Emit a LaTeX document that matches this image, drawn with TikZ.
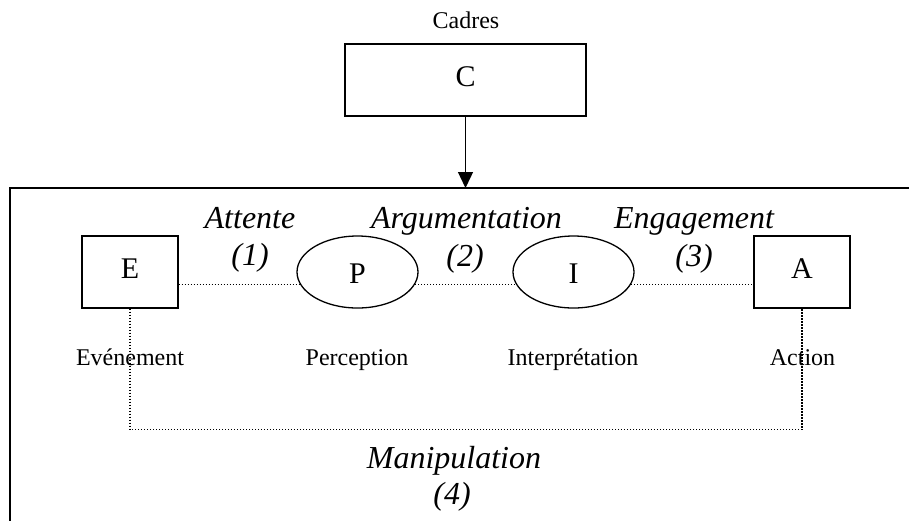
\documentclass[tikz,border=0pt]{standalone}
\usepackage{fontspec}
\setmainfont{Liberation Serif}
\usetikzlibrary{shapes.geometric,arrows.meta}
\begin{document}
\begin{tikzpicture}[x=0.5pt,y=-0.5pt,
  box/.style={draw,line width=0.65pt,rectangle,minimum width=48pt,minimum height=36pt,inner sep=0pt,font=\fontsize{15}{17}\selectfont,text height=6pt,text depth=0pt},
  oval/.style={draw,line width=0.65pt,ellipse,minimum width=60.5pt,minimum height=36pt,inner sep=0pt,font=\fontsize{15}{17}\selectfont,text height=11.5pt,text depth=0pt},
  lbl/.style={anchor=base,inner sep=0pt,font=\fontsize{12}{14}\selectfont},
  itl/.style={anchor=base,inner sep=0pt,font=\fontsize{16}{18}\selectfont\itshape},
  dot/.style={line width=0.6pt,dash pattern=on 0.6pt off 0.9pt},
  frame/.style={line width=0.65pt}]
\useasboundingbox (0,0) rectangle (909,521);
% frame
\coordinate (ftl) at (10,188);
\coordinate (ftr) at (909,188);
\coordinate (fbl) at (10,521);
\draw[frame] (ftr) -- (ftl) -- (fbl);
% cadres
\node[lbl] (cadres) at (466,28) {Cadres};
\node[box,minimum width=120.5pt] (C) at (465.5,80) {C};
\draw[frame,-{Triangle[length=8pt,width=7.5pt]}] (C.south) -- (C.south |- ftl);
% main nodes
\node[box] (E) at (130,272) {E};
\node[oval] (P) at (357.5,272) {P};
\node[oval] (I) at (573.5,272) {I};
\node[box] (A) at (802,272) {A};
% dotted connectors
\draw[dot] (E.east |- P.192) -- (P.192);
\draw[dot] (P.348) -- (I.192);
\draw[dot] (I.348) -- (A.west |- I.348);
\draw[dot] (E.south) -- ++(0,121) -| (A.south);
% labels
\node[lbl] (le) at (130,365) {Evénement};
\node[lbl] (lp) at (357,365) {Perception};
\node[lbl] (li) at (573,365) {Interprétation};
\node[lbl] (la) at (802.5,365) {Action};
\node[itl] (t1) at (250,228) {Attente};
\node[itl] (n1) at (250,265) {(1)};
\node[itl] (t2) at (466.5,228) {Argumentation};
\node[itl] (n2) at (465,266) {(2)};
\node[itl] (t3) at (694,228) {Engagement};
\node[itl] (n3) at (694,266) {(3)};
\node[itl] (t4) at (454,468) {Manipulation};
\node[itl] (n4) at (452,504) {(4)};
\end{tikzpicture}
\end{document}
